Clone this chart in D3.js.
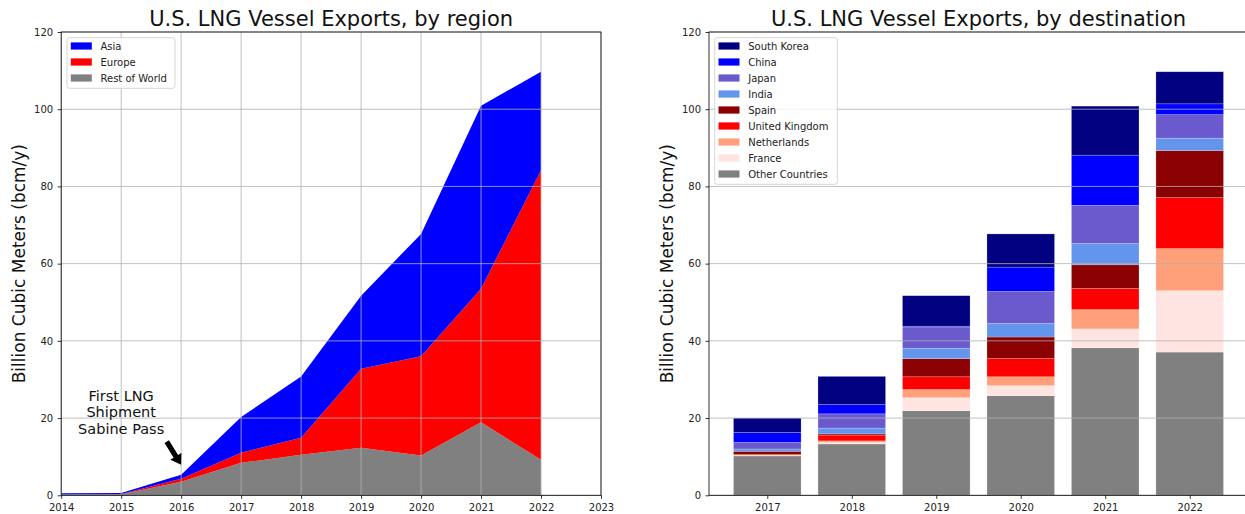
<!DOCTYPE html>
<html>
<head>
<meta charset="utf-8">
<script src="https://cdn.jsdelivr.net/npm/d3@7"></script>
<style>
  html, body { margin: 0; padding: 0; background: #fff; }
  svg { display: block; font-family: "DejaVu Sans", sans-serif; }
</style>
</head>
<body>
<svg id="chart" width="1245" height="514"></svg>
<script>
// ---------- DATA ----------
// Left chart: stacked areas by region (bcm/y)
const years = [2014, 2015, 2016, 2017, 2018, 2019, 2020, 2021, 2022];
const restOfWorld = [0.2, 0.3, 3.5, 8.4, 10.5, 12.3, 10.3, 18.9, 9.2];
const europe      = [0.0, 0.05, 0.8, 2.6, 4.4, 20.5, 25.7, 34.6, 75.0];
const asia        = [0.3, 0.25, 1.0, 9.3, 15.9, 18.9, 31.7, 47.4, 25.5];
const regionNames = ["Asia", "Europe", "Rest of World"];
const regionColors = ["#0000ff", "#ff0000", "#808080"];
const leftXTicks = [2014, 2015, 2016, 2017, 2018, 2019, 2020, 2021, 2022, 2023];
const yTicks = [0, 20, 40, 60, 80, 100, 120];

// Right chart: stacked bars by destination (bcm/y)
const barYears    = [2017, 2018, 2019, 2020, 2021, 2022];
const otherCountries = [10.2, 13.3, 21.9, 25.8, 38.2, 37.1];
const france         = [0.1, 0.4, 3.4, 2.6, 4.9, 15.9];
const netherlands    = [0.2, 0.4, 2.1, 2.3, 5.0, 10.9];
const unitedKingdom  = [0.05, 1.5, 3.3, 4.7, 5.5, 13.2];
const spain          = [0.85, 0.3, 4.7, 5.6, 6.1, 12.2];
const india          = [0.6, 1.5, 2.7, 3.5, 5.5, 3.2];
const japan          = [1.7, 3.7, 5.5, 8.3, 9.9, 6.1];
const china          = [2.6, 2.4, 0.2, 6.3, 13.0, 2.8];
const southKorea     = [3.7, 7.3, 7.9, 8.6, 12.7, 8.3];
const countryNames  = ["South Korea", "China", "Japan", "India", "Spain", "United Kingdom", "Netherlands", "France", "Other Countries"];
const countryColors = ["#000080", "#0000ff", "#6a5acd", "#6495ed", "#8b0000", "#ff0000", "#ffa07a", "#ffe4e1", "#808080"];

const titles = ["U.S. LNG Vessel Exports, by region", "U.S. LNG Vessel Exports, by destination"];
const yLabel = "Billion Cubic Meters (bcm/y)";
const annotationLines = ["First LNG", "Shipment", "Sabine Pass"];
const annotationText = { x: 2015.0, y: 24.5 };   // data coords of first line baseline
const annotationTail = { x: 2015.76, y: 13.9 };
const annotationHead = { x: 2016, y: 7.9 };

// ---------- DRAW ----------
const svg = d3.select("#chart");
const FONT = "DejaVu Sans, sans-serif";
const GRID = "#b0b0b0";

function styleAxis(g) {
  g.selectAll("path.domain").remove();
  g.selectAll("line").attr("stroke", "#000").attr("stroke-width", 0.8);
  g.selectAll("text").attr("font-family", FONT).attr("font-size", 10).attr("fill", "#222");
}

function drawLegend(g, x, y, w, names, colors) {
  const rowH = 16;
  const h = names.length * rowH + 2.6;
  g.append("rect").attr("x", x).attr("y", y).attr("width", w).attr("height", h)
    .attr("rx", 2.5).attr("fill", "#fff").attr("fill-opacity", 0.8)
    .attr("stroke", "#cccccc").attr("stroke-width", 0.8);
  names.forEach((n, i) => {
    const cy = y + 8.3 + i * rowH;
    g.append("rect").attr("x", x + 3.8).attr("y", cy - 3.6).attr("width", 21).attr("height", 7.2)
      .attr("fill", colors[i]);
    g.append("text").attr("x", x + 33.5).attr("y", cy + 3.7).text(n)
      .attr("font-family", FONT).attr("font-size", 10).attr("fill", "#222");
  });
}

// ===== LEFT =====
const L = { left: 61.2, right: 601, top: 32, bottom: 495.3 };
const xL = d3.scaleLinear().domain([2014, 2023]).range([L.left, L.right]);
const yL = d3.scaleLinear().domain([0, 120]).range([L.bottom, L.top]);

const regionTable = years.map((yr, i) => ({ year: yr, "Rest of World": restOfWorld[i], "Europe": europe[i], "Asia": asia[i] }));
const regionStack = d3.stack().keys(["Rest of World", "Europe", "Asia"])(regionTable);
const area = d3.area().x(d => xL(d.data.year)).y0(d => yL(d[0])).y1(d => yL(d[1]));
const gL = svg.append("g");
regionStack.forEach(s => {
  gL.append("path").datum(s).attr("d", area)
    .attr("fill", regionColors[regionNames.indexOf(s.key)]);
});

// grid (on top of fills)
leftXTicks.forEach(t => {
  gL.append("line").attr("x1", xL(t)).attr("x2", xL(t)).attr("y1", L.top).attr("y2", L.bottom)
    .attr("stroke", GRID).attr("stroke-width", 0.8);
});
yTicks.forEach(t => {
  gL.append("line").attr("x1", L.left).attr("x2", L.right).attr("y1", yL(t)).attr("y2", yL(t))
    .attr("stroke", GRID).attr("stroke-width", 0.8);
});

// spines
gL.append("rect").attr("x", L.left).attr("y", L.top).attr("width", L.right - L.left).attr("height", L.bottom - L.top)
  .attr("fill", "none").attr("stroke", "#000").attr("stroke-width", 0.8);

gL.append("g").attr("transform", `translate(0,${L.bottom})`)
  .call(d3.axisBottom(xL).tickValues(leftXTicks).tickFormat(d3.format("d")).tickSize(3.5).tickPadding(5).tickSizeOuter(0))
  .call(styleAxis);
gL.append("g").attr("transform", `translate(${L.left},0)`)
  .call(d3.axisLeft(yL).tickValues(yTicks).tickSize(3.5).tickPadding(4.5).tickSizeOuter(0))
  .call(styleAxis);

gL.append("text").attr("x", (L.left + L.right) / 2).attr("y", 26).attr("text-anchor", "middle")
  .attr("font-family", FONT).attr("font-size", 21).attr("fill", "#111").text(titles[0]);
gL.append("text").attr("transform", `translate(25,${(L.top + L.bottom) / 2}) rotate(-90)`)
  .attr("text-anchor", "middle").attr("font-family", FONT).attr("font-size", 17).attr("fill", "#111").text(yLabel);

// annotation
const ax = xL(annotationText.x), ay = yL(annotationText.y);
annotationLines.forEach((t, i) => {
  gL.append("text").attr("x", ax).attr("y", ay + i * 16.6).attr("text-anchor", "middle")
    .attr("font-family", FONT).attr("font-size", 14.5).attr("fill", "#111").text(t);
});
(function arrow() {
  const x0 = xL(annotationTail.x), y0 = yL(annotationTail.y);
  const x1 = xL(annotationHead.x), y1 = yL(annotationHead.y);
  const dx = x1 - x0, dy = y1 - y0, len = Math.hypot(dx, dy);
  const ux = dx / len, uy = dy / len, px = -uy, py = ux;
  const bw = 2.6, hw = 6.5, hl = 10;
  const bx = x1 - ux * hl, by = y1 - uy * hl;
  const pts = [
    [x0 + px * bw, y0 + py * bw], [bx + px * bw, by + py * bw], [bx + px * hw, by + py * hw],
    [x1, y1], [bx - px * hw, by - py * hw], [bx - px * bw, by - py * bw], [x0 - px * bw, y0 - py * bw]
  ];
  gL.append("polygon").attr("points", pts.map(p => p.join(",")).join(" ")).attr("fill", "#000");
})();

drawLegend(gL, 67, 37.7, 108, regionNames, regionColors);

// ===== RIGHT =====
const R = { left: 709, right: 1248, top: 32, bottom: 495.3 };
const xR = d3.scaleLinear().domain([2017 - 0.69, 2022 + 0.69]).range([R.left, R.right]);
const yR = d3.scaleLinear().domain([0, 120]).range([R.bottom, R.top]);
const seriesByName = {
  "South Korea": southKorea, "China": china, "Japan": japan, "India": india, "Spain": spain,
  "United Kingdom": unitedKingdom, "Netherlands": netherlands, "France": france, "Other Countries": otherCountries
};
const barTable = barYears.map((yr, i) => {
  const o = { year: yr };
  countryNames.forEach(n => o[n] = seriesByName[n][i]);
  return o;
});
const stackKeys = countryNames.slice().reverse();
const barStack = d3.stack().keys(stackKeys)(barTable);
const gR = svg.append("g");
barStack.forEach(s => {
  const col = countryColors[countryNames.indexOf(s.key)];
  gR.append("g").selectAll("rect").data(s).join("rect")
    .attr("x", d => xR(d.data.year - 0.4))
    .attr("width", d => xR(d.data.year + 0.4) - xR(d.data.year - 0.4))
    .attr("y", d => yR(d[1]))
    .attr("height", d => yR(d[0]) - yR(d[1]))
    .attr("fill", col)
    .attr("stroke", "#fff").attr("stroke-opacity", 0.35).attr("stroke-width", 0.6);
});
yTicks.forEach(t => {
  gR.append("line").attr("x1", R.left).attr("x2", R.right).attr("y1", yR(t)).attr("y2", yR(t))
    .attr("stroke", GRID).attr("stroke-width", 0.8);
});
gR.append("rect").attr("x", R.left).attr("y", R.top).attr("width", R.right - R.left).attr("height", R.bottom - R.top)
  .attr("fill", "none").attr("stroke", "#000").attr("stroke-width", 0.8);
gR.append("g").attr("transform", `translate(0,${R.bottom})`)
  .call(d3.axisBottom(xR).tickValues(barYears).tickFormat(d3.format("d")).tickSize(3.5).tickPadding(5).tickSizeOuter(0))
  .call(styleAxis);
gR.append("g").attr("transform", `translate(${R.left},0)`)
  .call(d3.axisLeft(yR).tickValues(yTicks).tickSize(3.5).tickPadding(4.5).tickSizeOuter(0))
  .call(styleAxis);
gR.append("text").attr("x", (R.left + R.right) / 2).attr("y", 26).attr("text-anchor", "middle")
  .attr("font-family", FONT).attr("font-size", 21).attr("fill", "#111").text(titles[1]);
gR.append("text").attr("transform", `translate(673,${(R.top + R.bottom) / 2}) rotate(-90)`)
  .attr("text-anchor", "middle").attr("font-family", FONT).attr("font-size", 17).attr("fill", "#111").text(yLabel);

drawLegend(gR, 714.7, 37.7, 122.6, countryNames, countryColors);
</script>
</body>
</html>
